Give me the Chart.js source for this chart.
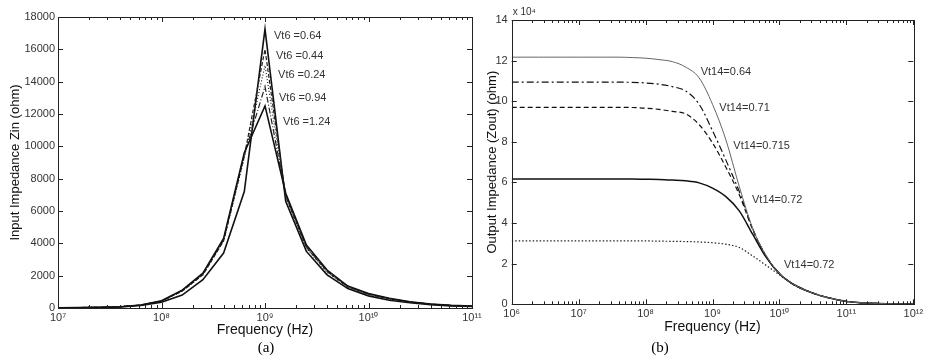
<!DOCTYPE html>
<html>
<head>
<meta charset="utf-8">
<script src="https://cdn.jsdelivr.net/npm/chart.js@4.4.1/dist/chart.umd.min.js"></script>
<style>
  body { margin: 0; background: #fff; }
  #wrap { position: relative; width: 928px; height: 358px; }
  canvas { position: absolute; left: 0; top: 0; }
</style>
</head>
<body>
<div id="wrap">
  <canvas id="zinChart" width="928" height="358"></canvas>
  <canvas id="zoutChart" width="928" height="358"></canvas>
</div>
<script>
// (a) Input impedance, one sample every 0.2 decade
const zinFreq = [1e7, 1.585e7, 2.512e7, 3.981e7, 6.31e7, 1e8, 1.585e8, 2.512e8, 3.981e8, 6.31e8,
                 1e9, 1.585e9, 2.512e9, 3.981e9, 6.31e9, 1e10, 1.585e10, 2.512e10, 3.981e10, 6.31e10, 1e11];
const zinVt064 = [15, 20, 30, 60, 150, 350, 800, 1750, 3400, 7200, 17250, 6600, 3500, 2050, 1200, 750, 480, 320, 200, 130, 90];
const zinVt044 = [18, 27, 40, 75, 180, 420, 1050, 2050, 4150, 9400, 16000, 6900, 3750, 2250, 1300, 850, 560, 370, 235, 155, 110];
const zinVt024 = [18, 27, 40, 75, 180, 420, 1050, 2050, 4150, 9300, 15000, 6850, 3700, 2200, 1280, 840, 550, 360, 230, 150, 105];
const zinVt094 = [19, 28, 42, 78, 185, 430, 1080, 2100, 4200, 9500, 13700, 7000, 3800, 2300, 1330, 870, 580, 380, 240, 160, 115];
const zinVt124 = [20, 30, 45, 80, 190, 450, 1100, 2150, 4300, 9600, 12500, 7100, 3900, 2350, 1360, 900, 600, 390, 250, 165, 120];
const zinXTicks = [1e7, 1e8, 1e9, 1e10, 1e11];
const zinXTickLabels = ['10\u2077', '10\u2078', '10\u2079', '10\u00b9\u2070', '10\u00b9\u00b9'];
const zinLabels = ['Vt6 =0.64', 'Vt6 =0.44', 'Vt6 =0.24', 'Vt6 =0.94', 'Vt6 =1.24'];
const zinLabelFreq = [1.222e9, 1.276e9, 1.337e9, 1.365e9, 1.493e9];
const zinLabelZ = [16820, 15590, 14410, 12990, 11500];

// (b) Output impedance (x 10^4 ohm), one sample every 0.2 decade
const zoutFreq = [1e6, 1.585e6, 2.512e6, 3.981e6, 6.31e6, 1e7, 1.585e7, 2.512e7, 3.981e7, 6.31e7,
                  1e8, 1.585e8, 2.512e8, 3.981e8, 6.31e8, 1e9, 1.585e9, 2.512e9, 3.981e9, 6.31e9,
                  1e10, 1.585e10, 2.512e10, 3.981e10, 6.31e10, 1e11, 1.585e11, 2.512e11, 3.981e11, 6.31e11, 1e12];
const zoutVt064 = [12.17, 12.17, 12.17, 12.17, 12.17, 12.17, 12.17, 12.17, 12.17, 12.15, 12.12, 12.05, 11.95, 11.68, 11.15,
                   9.85, 8.1, 5.8, 3.75, 2.4, 1.52, 1.0, 0.68, 0.44, 0.27, 0.14, 0.08, 0.05, 0.03, 0.02, 0.015];
const zoutVt071 = [10.94, 10.94, 10.94, 10.94, 10.94, 10.94, 10.94, 10.94, 10.94, 10.93, 10.9, 10.84, 10.72, 10.5, 9.85,
                   8.55, 7.1, 5.55, 3.72, 2.39, 1.52, 1.0, 0.68, 0.44, 0.27, 0.14, 0.08, 0.05, 0.03, 0.02, 0.015];
const zoutVt0715 = [9.7, 9.7, 9.7, 9.7, 9.7, 9.7, 9.7, 9.7, 9.7, 9.69, 9.66, 9.6, 9.5, 9.38, 8.85,
                    7.95, 6.75, 5.4, 3.68, 2.37, 1.52, 1.0, 0.68, 0.44, 0.27, 0.14, 0.08, 0.05, 0.03, 0.02, 0.015];
const zoutVt072 = [6.17, 6.17, 6.17, 6.17, 6.17, 6.17, 6.17, 6.17, 6.17, 6.17, 6.16, 6.15, 6.12, 6.08, 5.98,
                   5.72, 5.3, 4.6, 3.45, 2.32, 1.5, 1.0, 0.68, 0.44, 0.27, 0.14, 0.08, 0.05, 0.03, 0.02, 0.015];
const zoutVt072b = [3.12, 3.12, 3.12, 3.12, 3.12, 3.12, 3.12, 3.12, 3.12, 3.12, 3.12, 3.11, 3.1, 3.09, 3.07,
                    3.03, 2.96, 2.8, 2.38, 1.92, 1.45, 0.98, 0.67, 0.44, 0.27, 0.14, 0.08, 0.05, 0.03, 0.02, 0.015];
const zoutXTicks = [1e6, 1e7, 1e8, 1e9, 1e10, 1e11, 1e12];
const zoutXTickLabels = ['10\u2076', '10\u2077', '10\u2078', '10\u2079', '10\u00b9\u2070', '10\u00b9\u00b9', '10\u00b9\u00b2'];
const zoutLabels = ['Vt14=0.64', 'Vt14=0.71', 'Vt14=0.715', 'Vt14=0.72', 'Vt14=0.72'];
const zoutLabelFreq = [6.67e8, 1.265e9, 2.046e9, 3.89e9, 1.17e10];
const zoutLabelZ = [11.45, 9.65, 7.79, 5.14, 1.935];

const SANS = "'Liberation Sans', Arial, sans-serif";

function pts(freq, vals) {
    return freq.map((f, i) => ({ x: f, y: vals[i] }));
}

// MATLAB-like box with inward ticks, curve notes and caption
const frameTicks = {
    id: 'frameTicks',
    afterDraw(chart, args, opts) {
        const { ctx, chartArea: a, scales: { x, y } } = chart;
        ctx.save();
        ctx.strokeStyle = '#222';
        ctx.lineWidth = 1;
        ctx.beginPath();
        const lo = Math.round(Math.log10(x.min)), hi = Math.round(Math.log10(x.max));
        for (let e = lo; e <= hi; e++) {
            for (let m = 1; m <= 9; m++) {
                const v = m * Math.pow(10, e);
                if (v > x.max * 1.0001) break;
                const px = Math.round(x.getPixelForValue(v)) + 0.5;
                const len = m === 1 ? 5 : 3;
                ctx.moveTo(px, a.bottom); ctx.lineTo(px, a.bottom - len);
                ctx.moveTo(px, a.top); ctx.lineTo(px, a.top + len);
            }
        }
        y.ticks.forEach(t => {
            const py = Math.round(y.getPixelForValue(t.value)) + 0.5;
            ctx.moveTo(a.left, py); ctx.lineTo(a.left + 5, py);
            ctx.moveTo(a.right, py); ctx.lineTo(a.right - 5, py);
        });
        ctx.stroke();
        ctx.strokeRect(Math.round(a.left) + 0.5, Math.round(a.top) + 0.5,
                       Math.round(a.right - a.left), Math.round(a.bottom - a.top));

        ctx.fillStyle = '#333';
        ctx.font = '11px ' + SANS;
        ctx.textAlign = 'left';
        ctx.textBaseline = 'middle';
        opts.notes.forEach(n => {
            ctx.fillText(n.text, x.getPixelForValue(n.f), y.getPixelForValue(n.z));
        });
        if (opts.multiplier) {
            ctx.font = '10px ' + SANS;
            ctx.fillText(opts.multiplier, a.left + 1, a.top - 8);
        }
        ctx.fillStyle = '#000';
        ctx.font = "15px 'Liberation Serif', 'Times New Roman', serif";
        ctx.textAlign = 'center';
        ctx.fillText(opts.caption, opts.captionX, opts.captionY);
        ctx.restore();
    }
};

function makeChart(el, cfg) {
    return new Chart(el, {
        type: 'line',
        data: { datasets: cfg.datasets },
        options: {
            responsive: false,
            animation: false,
            layout: { padding: cfg.padding },
            elements: { point: { radius: 0 } },
            plugins: {
                legend: { display: false },
                tooltip: { enabled: false },
                frameTicks: cfg.frame
            },
            scales: {
                x: {
                    type: 'logarithmic',
                    min: cfg.xTicks[0],
                    max: cfg.xTicks[cfg.xTicks.length - 1],
                    afterBuildTicks: s => { s.ticks = cfg.xTicks.map(v => ({ value: v })); },
                    afterFit: s => { s.height = cfg.xHeight; },
                    grid: { display: false, drawTicks: false },
                    border: { display: false },
                    ticks: {
                        autoSkip: false, maxRotation: 0, padding: 3,
                        color: '#333', font: { family: SANS, size: 11 },
                        callback: (v, i) => cfg.xTickLabels[i]
                    },
                    title: {
                        display: true, text: 'Frequency (Hz)', color: '#111',
                        font: { family: SANS, size: 14 },
                        padding: { top: 0, bottom: cfg.xTitlePad }
                    }
                },
                y: {
                    type: 'linear',
                    min: 0,
                    max: cfg.yMax,
                    afterFit: s => { s.width = cfg.yWidth; },
                    grid: { display: false, drawTicks: false },
                    border: { display: false },
                    ticks: {
                        stepSize: cfg.yStep, padding: cfg.yTickPad,
                        color: '#333', font: { family: SANS, size: 11 },
                        callback: v => String(v)
                    },
                    title: {
                        display: true, text: cfg.yTitle, color: '#111',
                        font: { family: SANS, size: 13 },
                        padding: { top: cfg.yTitlePad, bottom: 0 }
                    }
                }
            }
        },
        plugins: [frameTicks]
    });
}

// (a)
makeChart(document.getElementById('zinChart'), {
    padding: { left: 0, top: 17, right: 456, bottom: 0 },
    xHeight: 50, xTitlePad: 19.6,
    yWidth: 58, yTickPad: 3, yTitlePad: 7.2,
    yMax: 18000, yStep: 2000,
    yTitle: 'Input Impedance Zin (ohm)',
    xTicks: zinXTicks, xTickLabels: zinXTickLabels,
    datasets: [
        { data: pts(zinFreq, zinVt124), borderColor: '#111', borderWidth: 1.6, tension: 0 },
        { data: pts(zinFreq, zinVt094), borderColor: '#222', borderWidth: 1.2, borderDash: [6, 2, 1, 2], tension: 0 },
        { data: pts(zinFreq, zinVt024), borderColor: '#222', borderWidth: 1.2, borderDash: [1, 2], tension: 0 },
        { data: pts(zinFreq, zinVt044), borderColor: '#222', borderWidth: 1.2, borderDash: [4, 2], tension: 0 },
        { data: pts(zinFreq, zinVt064), borderColor: '#111', borderWidth: 1.6, tension: 0 }
    ],
    frame: {
        notes: zinLabels.map((t, i) => ({ text: t, f: zinLabelFreq[i], z: zinLabelZ[i] })),
        caption: '(a)', captionX: 266, captionY: 348
    }
});

// (b)
makeChart(document.getElementById('zoutChart'), {
    padding: { left: 470, top: 20, right: 14.7, bottom: 0 },
    xHeight: 53.7, xTitlePad: 22.6,
    yWidth: 41.7, yTickPad: 4, yTitlePad: 15,
    yMax: 14, yStep: 2,
    yTitle: 'Output Impedance (Zout) (ohm)',
    xTicks: zoutXTicks, xTickLabels: zoutXTickLabels,
    datasets: [
        { data: pts(zoutFreq, zoutVt064), borderColor: '#666', borderWidth: 1, cubicInterpolationMode: 'monotone' },
        { data: pts(zoutFreq, zoutVt071), borderColor: '#111', borderWidth: 1.2, borderDash: [7, 3, 2, 3], cubicInterpolationMode: 'monotone' },
        { data: pts(zoutFreq, zoutVt0715), borderColor: '#111', borderWidth: 1.2, borderDash: [5, 3], cubicInterpolationMode: 'monotone' },
        { data: pts(zoutFreq, zoutVt072), borderColor: '#111', borderWidth: 1.5, cubicInterpolationMode: 'monotone' },
        { data: pts(zoutFreq, zoutVt072b), borderColor: '#222', borderWidth: 1.2, borderDash: [1.5, 2], cubicInterpolationMode: 'monotone' }
    ],
    frame: {
        notes: zoutLabels.map((t, i) => ({ text: t, f: zoutLabelFreq[i], z: zoutLabelZ[i] })),
        multiplier: 'x 10\u2074',
        caption: '(b)', captionX: 660, captionY: 348
    }
});
</script>
</body>
</html>
